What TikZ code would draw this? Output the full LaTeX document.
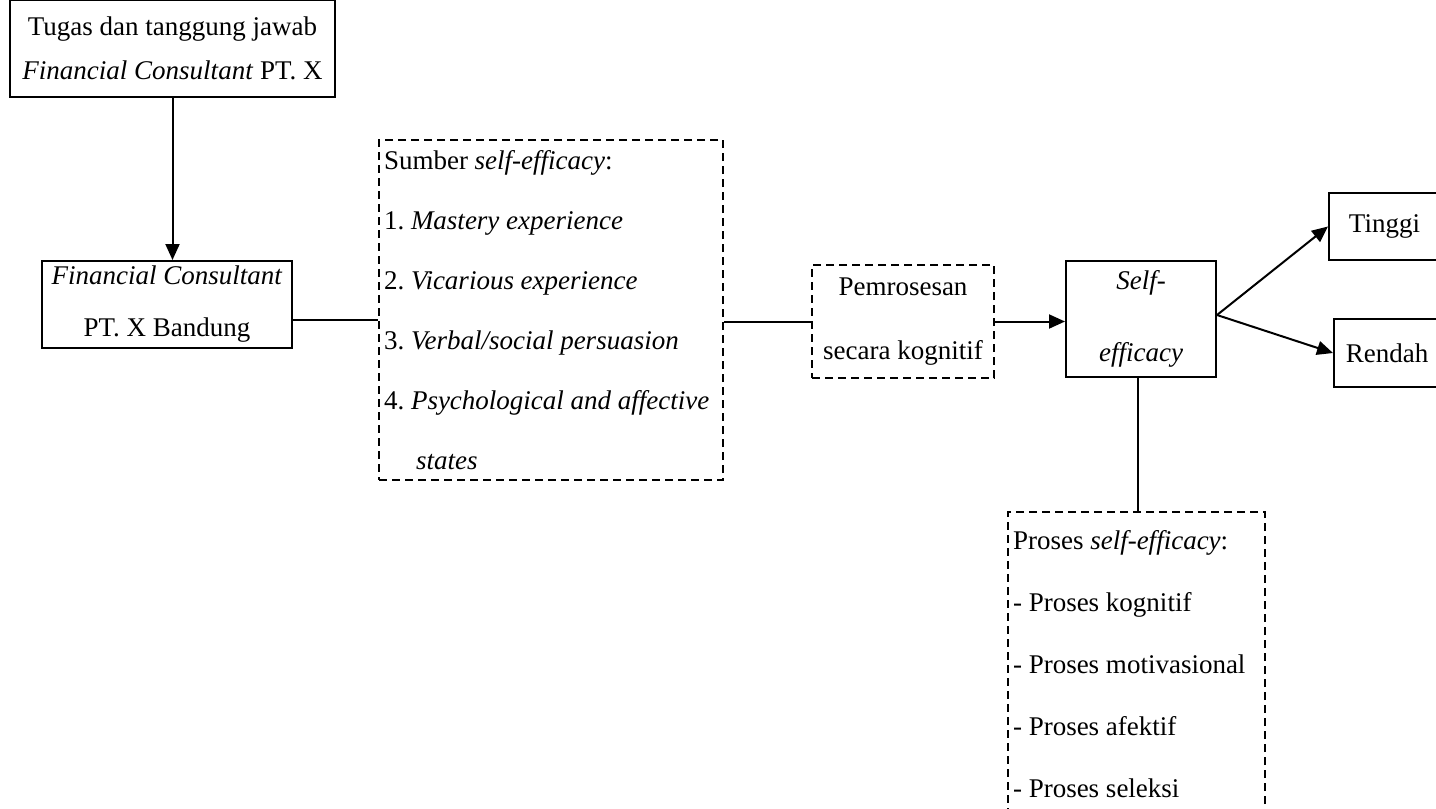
\documentclass[tikz,border=0pt]{standalone}
\usepackage{fontspec}
\setmainfont{Liberation Serif}
\usetikzlibrary{arrows.meta}
\tikzset{>/.tip={Triangle[length=8pt,width=7pt]}}

\begin{document}
\frenchspacing
\begin{tikzpicture}[x=0.5pt,y=-0.5pt,line width=1pt,
  box/.style={draw,inner sep=0pt,align=center},
  dashbox/.style={box,dash pattern=on 4pt off 2.5pt},
  lines/.style={font=\fontsize{13.5}{#1}\selectfont},
  txt/.style={inner sep=0pt,align=left,anchor=north west}]
  \useasboundingbox (0,0) rectangle (1436,809);
  \node(tugas)[box,lines=22pt,minimum width=162.5pt,minimum height=48.5pt] at (172.5,48.5)
    {Tugas dan tanggung jawab\\\textit{Financial Consultant} PT. X};
  \node(fc)[box,lines=26pt,minimum width=125pt,minimum height=43.5pt] at (167,304.5)
    {\textit{Financial Consultant}\\PT. X Bandung};
  \node(sumber)[dashbox,minimum width=172pt,minimum height=170pt] at (551,310) {};
  \node(sumbertxt)[txt,lines=30pt] at (383,149)
    {Sumber \textit{self-efficacy}:\\
     1. \textit{Mastery experience}\\
     2. \textit{Vicarious experience}\\
     3. \textit{Verbal/social persuasion}\\
     4. \textit{Psychological and affective}\\
     \hspace*{16pt}\textit{states}};
  \node(pem)[dashbox,lines=32pt,minimum width=91pt,minimum height=56.5pt] at (903,321.5)
    {Pemrosesan\\secara kognitif};
  \node(self)[box,lines=36pt,minimum width=75pt,minimum height=58pt] at (1141,319)
    {\textit{Self-}\\\textit{efficacy}};
  \node(tinggi)[box,lines=22pt,minimum width=55.5pt,minimum height=33.5pt] at (1384.5,226.5) {Tinggi};
  \node(rendah)[box,lines=22pt,minimum width=53pt,minimum height=34pt] at (1387,353) {Rendah};
  \node(proses)[dashbox,minimum width=128.5pt,minimum height=154pt] at (1136.5,666) {};
  \node(prosestxt)[txt,lines=31pt] at (1012,529)
    {Proses \textit{self-efficacy}:\\
     - Proses kognitif\\
     - Proses motivasional\\
     - Proses afektif\\
     - Proses seleksi};
  % connectors
  \draw[->] (tugas.south) -- (tugas.south |- fc.north);
  \draw ([yshift=-7.5pt]fc.east) -- ([yshift=-7.5pt]fc.east -| sumber.west);
  \draw (pem.west -| sumber.east) -- (pem.west);
  \draw[->] (pem.east) -- (pem.east -| self.west);
  \draw[->] ([yshift=2pt]self.east) -- (tinggi.west);
  \draw[->] ([yshift=2pt]self.east) -- (rendah.west);
  \draw ([xshift=-1.5pt]self.south) -- ([xshift=-1.5pt]self.south |- proses.north);
\end{tikzpicture}
\end{document}
